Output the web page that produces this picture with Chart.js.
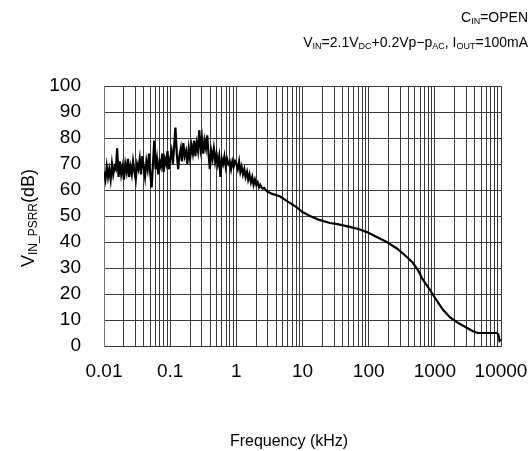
<!DOCTYPE html>
<html>
<head>
<meta charset="utf-8">
<script src="https://cdn.jsdelivr.net/npm/chart.js@4.4.1/dist/chart.umd.min.js"></script>
<style>
  html, body { margin: 0; padding: 0; background: #fff; }
  #wrap { width: 531px; height: 451px; position: relative; }
</style>
</head>
<body>
<div id="wrap"><canvas id="c" width="531" height="451"></canvas></div>
<script>
// Frequency (kHz)
const freqKHz = [
  0.010, 0.0105, 0.011, 0.0115, 0.012, 0.0126, 0.0132, 0.0138, 0.0145, 0.0151,
  0.0158, 0.0166, 0.0174, 0.0182, 0.0191, 0.020, 0.021, 0.022, 0.023, 0.024,
  0.0251, 0.0263, 0.0275, 0.0288, 0.0302, 0.0316, 0.0331, 0.0347, 0.0363, 0.038,
  0.0398, 0.0417, 0.0437, 0.0457, 0.0479, 0.0501, 0.0525, 0.055, 0.0575, 0.0603,
  0.0631, 0.0661, 0.0692, 0.0724, 0.0759, 0.0794, 0.0832, 0.0871, 0.0912, 0.0955,
  0.100, 0.105, 0.110, 0.115, 0.120, 0.126, 0.132, 0.138, 0.145, 0.151,
  0.158, 0.166, 0.174, 0.182, 0.191, 0.200, 0.210, 0.220, 0.230, 0.240,
  0.251, 0.263, 0.275, 0.288, 0.302, 0.316, 0.331, 0.347, 0.363, 0.380,
  0.398, 0.417, 0.437, 0.457, 0.479, 0.501, 0.525, 0.550, 0.575, 0.603,
  0.631, 0.661, 0.692, 0.724, 0.759, 0.794, 0.832, 0.871, 0.912, 0.955,
  1.00, 1.05, 1.10, 1.15, 1.20, 1.26, 1.32, 1.38, 1.45, 1.51,
  1.58, 1.66, 1.74, 1.82, 1.91, 2.00, 2.10, 2.20, 2.30, 2.40,
  2.51, 2.63, 2.9, 3.5, 4.6, 6, 8, 10, 13, 18,
  26, 35, 52, 70, 94, 130, 188, 267, 350, 466,
  560, 659, 800, 933, 1100, 1321, 1700, 2150, 3040, 3700,
  4460, 6000, 8650, 9100, 9500, 10000
];
// VIN PSRR (dB)
const psrrDB = [
  67, 64, 69, 65, 68, 64, 70, 66, 69, 68,
  76, 65, 71, 66, 69, 64, 70, 67, 72, 65,
  69, 66, 71, 67, 64, 70, 68, 72, 66, 73,
  69, 65, 71, 68, 74, 66, 61, 70, 79, 68,
  72, 66, 71, 69, 74, 67, 72, 70, 75, 68,
  72, 75, 70, 77, 84, 74, 68, 73, 76, 71,
  78, 73, 75, 70, 76, 72, 77, 74, 79, 73,
  78, 75, 83, 76, 80, 74, 79, 76, 81, 74,
  68, 75, 72, 76, 71, 74, 70, 73, 65, 72,
  70, 73, 69, 72, 70, 71, 68, 71, 69, 71,
  70, 68, 71, 67, 69, 66, 68, 65, 67, 64,
  66, 63, 65, 62, 64, 62, 63, 61, 62, 61,
  60.5, 60.8, 59.5, 58.5, 57.5, 55.5, 53.5, 51.5, 50, 48.5,
  47.3, 46.8, 45.8, 45, 43.8, 42, 40, 37.5, 35, 32,
  29, 25.5, 22.5, 19.8, 17, 14, 11, 9.2, 7, 5.8,
  5, 5, 5, 4.5, 2, 2.5
];
const xDecadeLabels = ['0.01', '0.1', '1', '10', '100', '1000', '10000'];
const xMin = 0.01, xMax = 10000;
const yMin = 0, yMax = 100, yStep = 10;

const points = freqKHz.map((f, i) => ({ x: f, y: psrrDB[i] }));

function richRight(ctx, segs, xRight, yBase) {
  let total = 0;
  segs.forEach(s => { ctx.font = s.font; total += ctx.measureText(s.t).width; });
  let x = xRight - total;
  segs.forEach(s => {
    ctx.font = s.font;
    ctx.fillText(s.t, x, yBase + (s.dy || 0));
    x += ctx.measureText(s.t).width;
  });
}
function richCenter(ctx, segs, xc, yBase) {
  let total = 0;
  segs.forEach(s => { ctx.font = s.font; total += ctx.measureText(s.t).width; });
  richRight(ctx, segs, xc + total / 2, yBase);
}

const FF = '"Liberation Sans", Arial, sans-serif';
const textPlugin = {
  id: 'texts',
  afterDraw(chart) {
    const ctx = chart.ctx;
    ctx.save();
    ctx.fillStyle = '#000';
    ctx.textBaseline = 'alphabetic';
    ctx.textAlign = 'left';
    const big = '14px ' + FF, sub = '9px ' + FF;
    richRight(ctx, [{t:'C', font:big}, {t:'IN', font:sub, dy:2}, {t:'=OPEN', font:big}], 528, 22);
    richRight(ctx, [
      {t:'V', font:big}, {t:'IN', font:sub, dy:2}, {t:'=2.1V', font:big}, {t:'DC', font:sub, dy:2},
      {t:'+0.2Vp\u2212p', font:big}, {t:'AC', font:sub, dy:2}, {t:', I', font:big}, {t:'OUT', font:sub, dy:2},
      {t:'=100mA', font:big}
    ], 528, 47);
    // y title
    ctx.save();
    ctx.translate(34, 218);
    ctx.rotate(-Math.PI / 2);
    richCenter(ctx, [{t:'V', font:'18px ' + FF}, {t:'IN_PSRR', font:'12px ' + FF, dy:3}, {t:'(dB)', font:'18px ' + FF}], 0, 0);
    ctx.restore();
    // x title
    ctx.font = '16px ' + FF;
    ctx.textAlign = 'center';
    ctx.fillText('Frequency\u00a0(kHz)', 289, 446);
    ctx.restore();
  }
};

new Chart(document.getElementById('c'), {
  type: 'scatter',
  data: {
    datasets: [{
      data: points,
      showLine: true,
      borderColor: '#000',
      borderWidth: 2.2,
      pointRadius: 0,
      tension: 0
    }]
  },
  options: {
    responsive: false,
    animation: false,
    plugins: { legend: { display: false }, tooltip: { enabled: false } },
    layout: { padding: { left: 0, right: 30, top: 86, bottom: 0 } },
    scales: {
      x: {
        type: 'logarithmic',
        min: xMin, max: xMax,
        afterBuildTicks(scale) {
          const t = [];
          for (let e = -2; e <= 3; e++) {
            for (let m = 1; m <= 9; m++) t.push({ value: m * Math.pow(10, e) });
          }
          t.push({ value: xMax });
          scale.ticks = t;
        },
        afterFit(scale) { scale.height = 105; scale.paddingLeft = 0; scale.paddingRight = 0; },
        ticks: {
          autoSkip: false,
          maxRotation: 0,
          padding: 14,
          color: '#000',
          font: { size: 19, family: FF },
          callback(value) {
            const e = Math.log10(value);
            if (Math.abs(e - Math.round(e)) < 1e-6) {
              return xDecadeLabels[Math.round(e) + 2];
            }
            return '';
          }
        },
        grid: { color: '#3a3a3a', lineWidth: 1, drawTicks: false },
        border: { display: true, color: '#333', width: 1 }
      },
      y: {
        min: yMin, max: yMax,
        afterFit(scale) { scale.width = 104; },
        ticks: {
          stepSize: yStep,
          padding: 23,
          color: '#000',
          font: { size: 19, family: FF }
        },
        grid: { color: '#3a3a3a', lineWidth: 1, drawTicks: false },
        border: { display: true, color: '#777', width: 1 }
      }
    }
  },
  plugins: [textPlugin]
});
</script>
</body>
</html>
